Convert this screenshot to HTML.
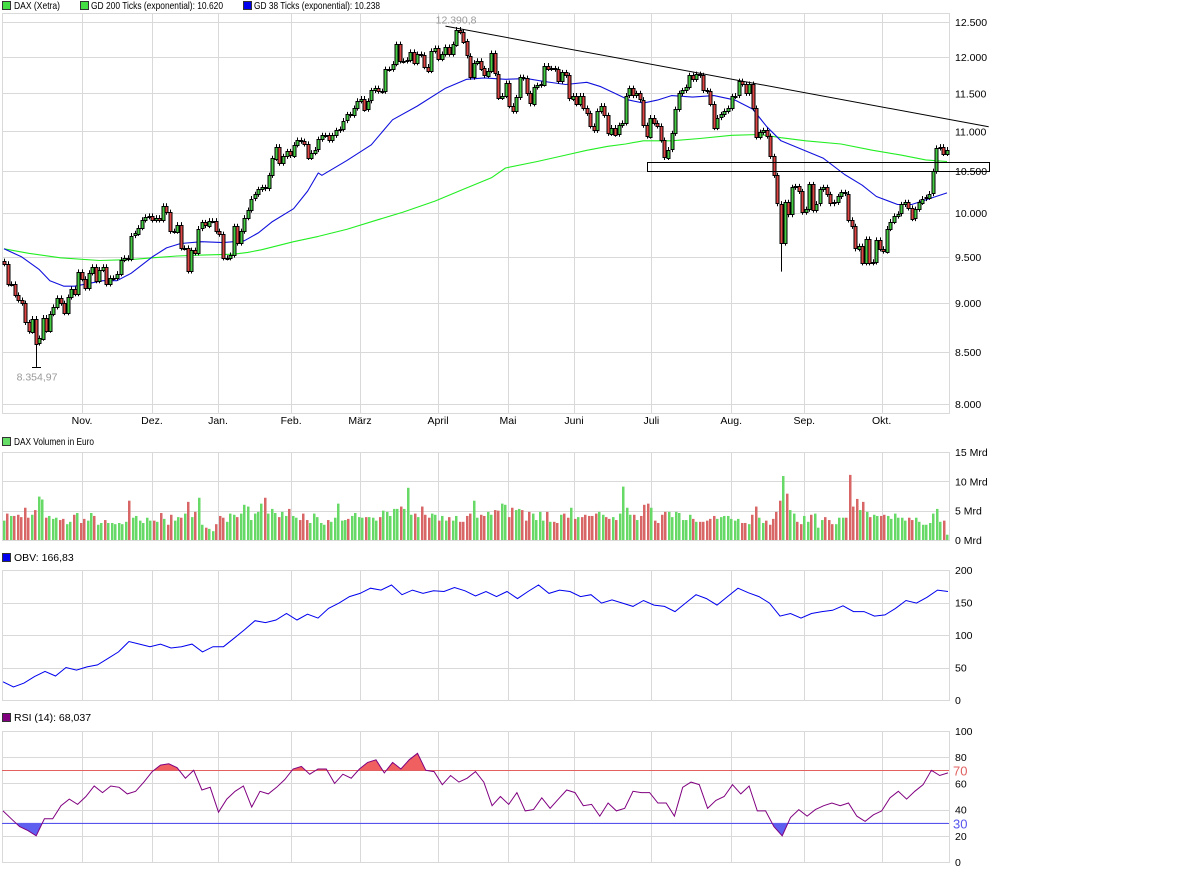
<!DOCTYPE html>
<html><head><meta charset="utf-8"><style>
html,body{margin:0;padding:0;background:#fff;}
svg{display:block;font-family:"Liberation Sans",sans-serif;font-size:10.5px;}
</style></head><body>
<svg id="c" width="1177" height="872" viewBox="0 0 1177 872" xmlns="http://www.w3.org/2000/svg">
<g>
<rect x="2.5" y="1.5" width="8" height="8" fill="#44dd44" stroke="#333"/>
<text x="14" y="9" textLength="46" lengthAdjust="spacingAndGlyphs">DAX (Xetra)</text>
<rect x="80.5" y="1.5" width="8" height="8" fill="#44dd44" stroke="#333"/>
<text x="91" y="9" textLength="132" lengthAdjust="spacingAndGlyphs">GD 200 Ticks (exponential): 10.620</text>
<rect x="243.5" y="1.5" width="8" height="8" fill="#0000ee" stroke="#333"/>
<text x="254" y="9" textLength="126" lengthAdjust="spacingAndGlyphs">GD 38 Ticks (exponential): 10.238</text>
</g>
<rect x="2.5" y="437.5" width="8" height="8" fill="#66dd66" stroke="#333"/>
<text x="14" y="445" textLength="80" lengthAdjust="spacingAndGlyphs">DAX Volumen in Euro</text>
<rect x="2.5" y="553.5" width="8" height="8" fill="#0000ee" stroke="#333"/>
<text x="14" y="561">OBV: 166,83</text>
<rect x="2.5" y="713.5" width="8" height="8" fill="#800080" stroke="#333"/>
<text x="14" y="721">RSI (14): 68,037</text>
<g id="grid"></g>
<g id="marks"></g>
<g id="axes"></g>
</svg>
<script>
const closes=[9424,9205,9205,9087,9033,9000,8800,8710,8840,8590,
8640,8850,8720,8890,8960,9055,9000,8900,9065,9150,
9100,9335,9260,9160,9325,9390,9240,9360,9390,9205,
9270,9270,9315,9470,9490,9480,9740,9765,9830,9920,
9955,9965,9920,9945,9920,10085,10010,9790,9790,9865,
9600,9600,9345,9575,9545,9820,9890,9855,9910,9910,
9790,9755,9490,9490,9520,9845,9655,9790,9945,10035,
10170,10220,10280,10305,10290,10450,10660,10805,10600,10685,
10745,10695,10830,10890,10875,10840,10670,10730,10770,10900,
10950,10950,10890,10950,11015,11030,11140,11220,11210,11305,11400,11430,11290,11400,11540,11570,11530,11530,11830,11830,11905,12180,11945,11945,11960,12070,11920,12040,12030,11865,11810,12085,12125,11975,12040,12140,12040,12180,12390,12360,12220,12015,11720,11920,11945,11840,11745,11810,12055,11770,11445,11470,11640,11335,11265,11445,11720,11705,11500,11360,11585,11610,11625,11880,11840,11840,11830,11665,11785,11745,11430,11470,11360,11470,11305,11235,11070,11015,11265,11335,11210,10975,11050,10965,11080,11110,11470,11570,
11470,11500,11415,11080,10940,11180,11110,11070,10890,10670,10770,10975,11290,11500,11540,11585,11745,11690,11760,11745,11540,11530,11360,11050,11180,11220,11265,11305,11460,11470,11665,11625,11500,11625,11305,10930,10990,11015,10940,10685,10450,10110,9655,10125,9980,10305,10315,10255,10010,10045,10340,10035,10110,10280,10305,10220,10110,10125,10195,10245,10230,9920,9845,9590,9620,9435,9700,9435,9445,9690,9590,9565,9820,9900,9965,9990,10100,10125,10060,9935,10045,10125,10170,10185,10230,10500,10790,10805,10720,10770];
const gd200=[9590,9540,9490,9460,9470,9490,9510,9520,9530,9550,9580,9670,9730,9810,9910,10010,10140,10280,10420,10540,10620,10700,10760,10810,10840,10880,10880,10910,10950,10960,10920,10880,10840,10760,10700,10640,10620];
const gd200Idx=[0,7,16,27,36,42,49,56,65,69,73,82,89,97,105,113,122,130,138,142,151,159,165,171,176,181,189,197,206,214,220,227,237,246,254,261,267];
const gd38=[9590,9500,9360,9240,9180,9180,9210,9240,9240,9320,9500,9600,9650,9670,9660,9680,9770,9900,10050,10260,10480,10450,10630,10830,11150,11330,11570,11690,11710,11690,11700,11660,11620,11650,11590,11500,11410,11370,11410,11470,11450,11470,11410,11290,11060,10880,10770,10660,10460,10330,10195,10100,10100,10238];
const gd38Idx=[0,5,10,13,17,20,24,28,32,36,42,46,50,56,62,68,72,76,82,86,89,90,97,104,110,117,125,131,136,142,148,153,159,165,169,173,177,181,185,189,195,201,207,212,216,220,226,232,238,243,247,253,257,267];
const volumes=[3.3,4.5,4.1,4.1,4.3,3.9,5.5,3.8,4.3,5.1,7.4,6.9,3.8,4.1,3.6,3.8,3.4,3.6,2.7,3.1,4.3,4.6,2.9,3.6,3.3,4.6,4.1,2.6,2.9,3.4,2.9,2.9,2.7,2.9,2.7,3.1,6.7,3.8,4.1,3.3,2.9,3.8,3.3,3.3,3.1,4.6,3.6,2.6,4.3,3.3,3.9,3.8,4.5,6.5,3.9,4.8,7.2,2.6,2.1,1.9,1.5,2.7,4.1,3.8,3.1,4.5,4.3,3.9,4.5,6.0,5.7,3.4,4.5,4.8,6.2,7.2,4.5,5.3,4.6,3.9,4.8,4.1,5.3,4.1,3.8,3.4,4.5,3.4,2.9,4.5,3.9,2.9,2.6,3.4,3.1,3.8,6.2,3.3,3.4,3.6,4.1,4.6,3.9,3.8,3.9,3.9,3.8,3.3,3.9,5.0,4.8,4.1,5.3,5.3,5.7,5.3,8.9,4.3,4.5,3.9,5.7,4.3,3.8,4.5,4.3,3.3,4.1,3.3,3.9,3.3,4.1,3.1,3.1,4.1,4.5,6.7,3.8,4.3,
4.1,4.8,4.3,5.1,5.0,6.2,6.0,3.9,5.5,5.1,5.3,5.1,3.3,4.8,4.5,3.4,4.8,3.3,4.8,3.1,3.1,2.9,4.3,4.5,3.8,5.5,3.6,3.9,3.9,4.3,4.1,4.1,4.5,4.8,4.3,3.9,3.6,3.9,3.4,4.5,9.1,5.5,4.3,4.3,3.4,4.1,6.0,6.2,5.5,3.3,2.9,4.3,4.8,4.8,3.9,4.8,4.6,3.4,3.4,4.3,3.6,3.1,3.1,3.1,3.3,3.6,4.1,3.6,3.9,4.1,4.1,3.6,3.3,3.6,2.9,2.9,2.7,4.3,5.7,3.8,2.9,3.3,2.6,3.6,4.8,6.7,10.9,7.9,5.1,4.5,3.1,2.7,4.1,3.1,4.3,4.5,2.1,3.4,3.9,3.4,2.7,2.7,3.8,3.8,3.8,11.1,5.7,7.0,5.1,6.5,4.8,3.9,4.3,4.1,4.1,4.3,4.1,3.6,4.5,3.8,3.8,3.3,3.8,3.4,3.8,3.1,2.6,2.6,2.9,4.5,5.3,3.1,3.3,0.9];
const obv=[28,20,26,36,44,37,50,46,51,54,64,74,90,86,82,86,80,82,86,74,82,82,95,108,122,119,123,133,123,132,126,141,149,159,164,172,169,177,162,169,164,168,167,173,168,160,167,159,167,156,167,177,164,169,167,159,162,149,154,149,144,153,146,144,136,149,162,156,146,159,172,165,159,149,129,133,126,133,136,138,145,136,136,129,131,141,153,149,158,169,167];
const rsi=[39,33,27,24,20,33,33,43,48,44,50,58,53,58,57,52,54,61,69,74,75,72,64,70,55,57,38,48,54,58,42,54,52,57,63,71,73,67,71,71,60,67,64,71,76,78,68,76,71,78,83,70,69,59,66,61,64,69,61,43,50,44,53,39,40,49,41,48,55,53,43,44,35,45,39,41,54,53,53,45,45,35,57,61,59,41,47,50,59,52,58,39,39,27,20,34,40,35,40,43,45,43,45,35,31,36,39,49,54,48,54,59,70,66,68];
const monthLabels=["Nov.","Dez.","Jan.","Feb.","März","April","Mai","Juni","Juli","Aug.","Sep.","Okt."];
const monthIdx=[22.1,41.9,60.6,81.3,100.8,122.9,142.7,161.4,183.3,205.9,226.6,248.5];
const priceTicks=[8000,8500,9000,9500,10000,10500,11000,11500,12000,12500];
const priceTickLabels=["8.000","8.500","9.000","9.500","10.000","10.500","11.000","11.500","12.000","12.500"];
const volTicks=[0,5,10,15];
const obvTicks=[0,50,100,150,200];
const rsiTicks=[0,20,40,60,80,100];
const trendIdx=[125,278.8];
const trendVals=[12440,11060];
const boxIdx=[182.1,278.8];
const boxVals=[10620,10515];
const lowMark=8354.97, highMark=12390.8;

const NS="http://www.w3.org/2000/svg";
const n=closes.length;
const X0=4,X1=947;
const xC=i=>X0+i*(X1-X0)/(n-1);
const yP=v=>404-Math.log(v/8000)/Math.log(12500/8000)*382;
const yV=v=>540-v*88/15;
const yO=v=>700-v*0.65;
const yR=v=>862-v*1.31;
function el(tag,attrs,parent){const e=document.createElementNS(NS,tag);for(const k in attrs)e.setAttribute(k,attrs[k]);parent.appendChild(e);return e;}
const G=document.getElementById('grid'),M=document.getElementById('marks'),A=document.getElementById('axes');
const GC="#d9d9d9";
const panels=[[13,413],[452,540],[570,700],[731,862]];
panels.forEach(p=>{
 const r=el('rect',{x:2.5,y:p[0]+.5,width:947,height:p[1]-p[0],fill:'none',stroke:GC},G);
 
 
 monthIdx.forEach(mi=>{const x=Math.round(xC(mi))+.5;const l=el('line',{x1:x,x2:x,y1:p[0],y2:p[1],stroke:GC},G);
  
  });
});
monthIdx.forEach((mi,k)=>{const t=el('text',{x:xC(mi),y:424,'text-anchor':'middle'},A);t.textContent=monthLabels[k];
 
 });
function hgrid(y,label){const yy=Math.round(y)+.5;const l=el('line',{x1:2,x2:949,y1:yy,y2:yy,stroke:GC},G);
 
 
 const t=el('text',{x:955,y:y+4},A);t.textContent=label;
 
 }
priceTicks.forEach((v,k)=>hgrid(yP(v),priceTickLabels[k]));
volTicks.forEach(v=>hgrid(yV(v),v+" Mrd"));
obvTicks.forEach(v=>hgrid(yO(v),String(v)));
rsiTicks.forEach(v=>hgrid(yR(v),String(v)));
[[70,"#e06060"],[30,"#5555ee"]].forEach(a=>{const y=Math.round(yR(a[0]))+.5;
 const l=el('line',{x1:2,x2:949,y1:y,y2:y,stroke:a[1]},M);
 
 
 const t=el('text',{x:953,y:y+5,fill:a[1],'font-size':'13'},A);t.textContent=String(a[0]);
 
 });
function maLine(vals,idx,color,name){const pts=vals.map((v,k)=>xC(idx[k]).toFixed(1)+","+yP(v).toFixed(1)).join(" ");
 const p=el('polyline',{points:pts,fill:'none',stroke:color,'stroke-width':1.1,'stroke-linejoin':'round'},M);
 
 }
maLine(gd200,gd200Idx,"#22ee22","gd200-line");
maLine(gd38,gd38Idx,"#1111dd","gd38-line");
let lowI=0;for(let i=0;i<40;i++)if(closes[i]<closes[lowI])lowI=i;
let augI=200;for(let i=200;i<240;i++)if(closes[i]<closes[augI])augI=i;
for(let i=0;i<n;i++){
 const c=closes[i],o=i?closes[i-1]:c*1.003;
 const x=Math.round(xC(i));
 let hi=Math.max(o,c)*1.003,lo=Math.min(o,c)/1.003;
 if(i===lowI)lo=lowMark; if(i===augI)lo=9338;
 const g=el('g',{},M);
 
 
 el('line',{x1:x+.5,x2:x+.5,y1:yP(hi),y2:yP(lo),stroke:'#000'},g);
 const yt=yP(Math.max(o,c)),yb=yP(Math.min(o,c));
 el('rect',{x:x-1,y:Math.round(yt)+.5,width:3,height:Math.max(1,Math.round(yb-yt)),fill:c>=o?'#44cc44':'#dd4444',stroke:'#000'},g);
}
{const x=Math.round(xC(lowI));const y=Math.round(yP(lowMark))+.5;
 const l=el('line',{x1:x-4,x2:x+5,y1:y,y2:y,stroke:'#000'},M);
 
 
 const t=el('text',{x:x+1,y:y+13,'text-anchor':'middle',fill:'#999'},M);t.textContent="8.354,97";
 
 
 let hI=0;for(let i=0;i<n;i++)if(closes[i]>closes[hI])hI=i;
 const t2=el('text',{x:xC(hI),y:yP(highMark)-6,'text-anchor':'middle',fill:'#999'},M);t2.textContent="12.390,8";
 
 }
{const xs=trendIdx.map(xC);
 const l=el('line',{x1:xs[0],y1:yP(trendVals[0]),x2:xs[1],y2:yP(trendVals[1]),stroke:'#000'},M);
 
 
 const bx=boxIdx.map(xC);
 const r=el('rect',{x:Math.round(bx[0])+.5,y:Math.round(yP(boxVals[0]))+.5,width:Math.round(bx[1]-bx[0]),height:Math.round(yP(boxVals[1])-yP(boxVals[0])),fill:'none',stroke:'#000'},M);
 
 }
const nv=volumes.length;
for(let j=0;j<nv;j++){
 const k=Math.round(j*(n-1)/(nv-1));const up=k===0||closes[k]>=closes[k-1];
 const x=X0+j*(X1-X0)/(nv-1);
 const b=el('rect',{x:Math.round(x)-1,y:yV(volumes[j]),width:2.5,height:540-yV(volumes[j]),fill:up?'#66d966':'#d96666'},M);
 
 
}
{const pts=obv.map((v,k)=>(3+k*945/(obv.length-1)).toFixed(1)+","+yO(v).toFixed(1)).join(" ");
 const p=el('polyline',{points:pts,fill:'none',stroke:'#0000ee','stroke-width':1},M);
 
 }
{const xr=k=>3+k*945/(rsi.length-1);
 const pts=rsi.map((v,k)=>xr(k).toFixed(1)+","+yR(v).toFixed(1));
 const defs=el('defs',{},M);
 const c1=el('clipPath',{id:'above70'},defs);el('rect',{x:0,y:0,width:950,height:yR(70)},c1);
 const c2=el('clipPath',{id:'below30'},defs);el('rect',{x:0,y:yR(30),width:950,height:200},c2);
 const xl=xr(rsi.length-1).toFixed(1),xf=xr(0).toFixed(1);
 const f1=el('polygon',{points:pts.join(" ")+" "+xl+","+yR(70)+" "+xf+","+yR(70),fill:'#f06060','clip-path':'url(#above70)'},M);
 
 
 const f2=el('polygon',{points:pts.join(" ")+" "+xl+","+yR(30)+" "+xf+","+yR(30),fill:'#6060f0','clip-path':'url(#below30)'},M);
 
 
 const p=el('polyline',{points:pts.join(" "),fill:'none',stroke:'#800080','stroke-width':1},M);
 
 }
</script>
</body></html>
